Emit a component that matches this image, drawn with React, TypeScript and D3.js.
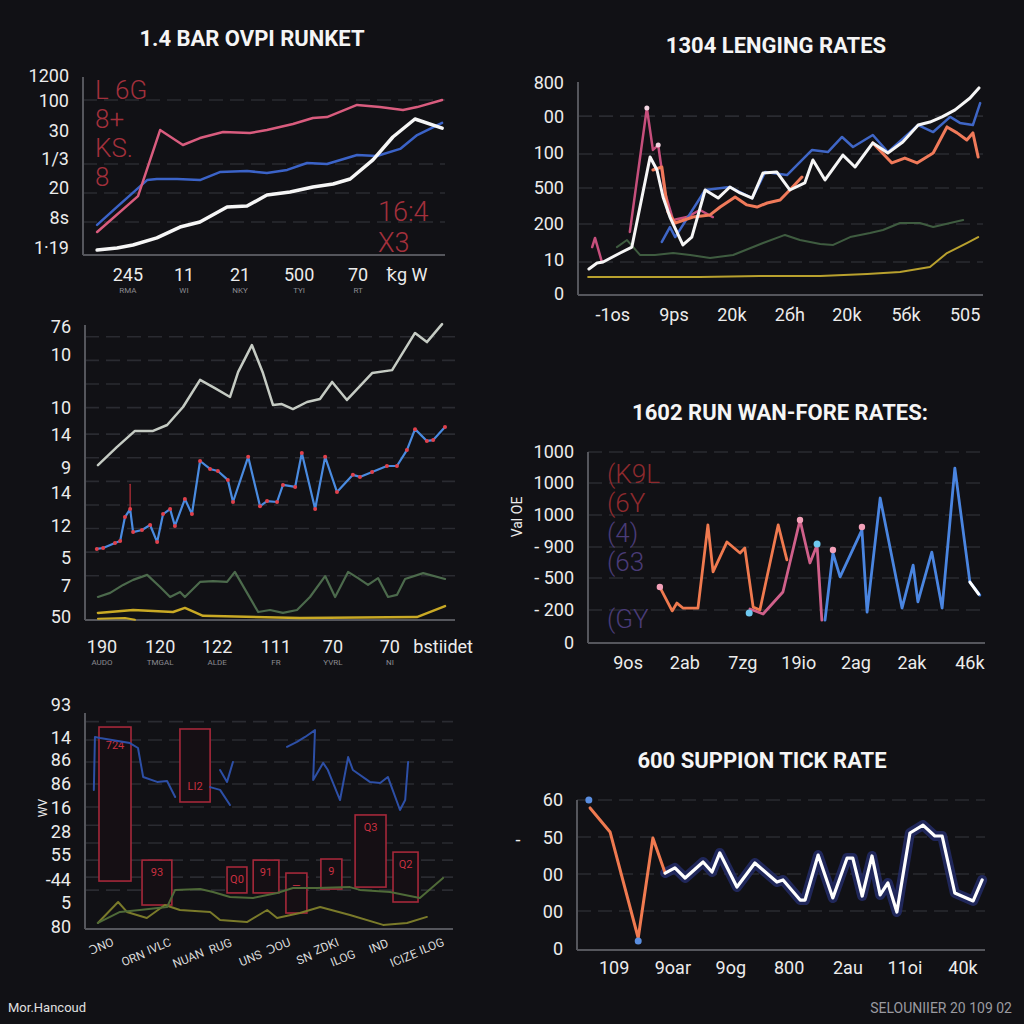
import React from 'react';
import * as d3 from 'd3';

type Pt = [number, number];

// ---------------- Panel 1 : top-left ----------------
const p1Title = '1.4 BAR OVPI RUNKET';
const p1YLabels = ['1200', '100', '30', '1/3', '20', '8s', '1·19'];
const p1YValues = [101, 86.5, 70, 54, 37.6, 21, 4];
const p1XLabels = ['245', '11', '21', '500', '70', 'ꝁg W'];
const p1XSub = ['RMA', 'WI', 'NKY', 'TYI', 'RT', ''];
const p1XValues = [12.4, 27.9, 43.4, 59.7, 76, 89.5];
const p1Grid = [87.1, 51.1, 34.8, 18.5];
const p1Pink: Pt[] = [[3.9, 12.9], [15.2, 33.1], [21.3, 70.2], [27.6, 61.8], [32.3, 65.7], [38.7, 69.1], [46.1, 68.5], [50.8, 70.2], [58, 73.6], [63.5, 77], [67.4, 77.5], [75.7, 84.3], [82, 83.1], [88.4, 81.5], [92.3, 83.1], [99.2, 87.1]];
const p1Blue: Pt[] = [[3.9, 16.9], [9.4, 27], [17.7, 42.1], [20.4, 42.7], [26, 42.7], [32.3, 42.1], [37.8, 46.6], [45.3, 47.2], [50.8, 46.1], [56.4, 47.8], [61.9, 51.7], [67.4, 51.1], [75.7, 56.2], [81.2, 55.6], [87.6, 59.6], [92.3, 67.4], [99.2, 74.2]];
const p1White: Pt[] = [[3.9, 2.8], [9.4, 3.9], [13.8, 5.6], [20.4, 9.6], [26.8, 15.7], [32.3, 18.5], [39.8, 27], [45.3, 27.5], [50.8, 33.7], [57.2, 35.4], [63.5, 38.2], [69.1, 39.9], [73.8, 42.7], [80.1, 53.4], [85.6, 66.3], [91.7, 76.4], [99.2, 71.3]];
const p1NotesLeft = ['L 6G', '8+', 'KS.', '8'];
const p1NotesRight = ['16:4', 'X3'];

// ---------------- Panel 2 : top-right ----------------
const p2Title = '1304 LENGING RATES';
const p2YLabels = ['800', '00', '100', '500', '200', '10', '0'];
const p2YValues = [99.5, 83.6, 66.7, 50.2, 33.3, 16.4, 0.5];
const p2XLabels = ['-1os', '9ps', '20k', '2бh', '20k', '5бk', '505'];
const p2XValues = [8.6, 23.7, 38, 52.3, 66.4, 81, 95.6];
const p2Grid = [84, 66.2, 50.2, 33.3, 15.5];
const p2White: Pt[] = [[2.7, 12.2], [4.7, 15], [6.2, 15.5], [10.4, 19.7], [13.3, 22.5], [17.8, 64.8], [19.5, 58.7], [21, 46], [22.7, 36.6], [25.9, 23.5], [28.1, 27.2], [31.4, 49.3], [34.6, 45.5], [37.5, 50.7], [40, 47.9], [43, 45.5], [45.7, 57.3], [49.1, 57.7], [52.3, 49.3], [56, 52.6], [58, 63.4], [61, 54], [65.4, 65.7], [68.4, 60.1], [72.8, 71.4], [76.5, 66.7], [80.2, 71.8], [84, 79.8], [86.9, 81.2], [89.9, 83.6], [93.1, 86.9], [96.8, 92.5], [99, 97.2]];
const p2Blue: Pt[] = [[20.7, 24.9], [22.7, 31.9], [24, 27.2], [31.4, 49.3], [37.5, 50.7], [43, 45.5], [46.2, 57.7], [51.6, 56.3], [57.8, 68.1], [61.7, 67.1], [65.2, 74.2], [67.9, 69.5], [72.8, 75.1], [76.5, 67.1], [84, 79.8], [87.7, 76.5], [91.9, 83.6], [94.3, 80.8], [97.5, 79.8], [99.3, 90.1]];
const p2OrangeA: Pt[] = [[18.5, 58.7], [20.7, 60.1], [22.2, 39], [24, 33.8], [28.4, 36.6], [32.6, 37.6], [35.1, 41.3], [38.8, 46], [41.7, 42.3], [44.2, 41.3], [46.7, 43.2], [49.9, 44.6], [52.3, 49.3], [55.3, 55.4]];
const p2OrangeB: Pt[] = [[72.8, 71.4], [77.5, 62], [80.7, 64.3], [83.7, 62], [87.7, 66.7], [91.1, 78.9], [93.6, 76.1], [96, 72.8], [97.5, 76.1], [98.8, 64.8]];
const p2PinkA: Pt[] = [[3.5, 22.5], [4.2, 26.8], [5.9, 15.5]];
const p2PinkB: Pt[] = [[12.8, 29.6], [17, 87.8], [18.5, 68.1], [19.8, 70.4], [21.5, 47.9], [23.5, 35.2], [26.9, 36.6], [30.1, 39.9], [33.3, 36.6]];
const p2Green: Pt[] = [[9.6, 22.5], [12.1, 25.8], [15.3, 18.8], [19, 18.8], [23.5, 19.7], [27.7, 18.8], [32.6, 17.4], [38.3, 18.8], [45.7, 24.4], [51.1, 28.2], [54.8, 25.8], [59.8, 23.9], [63, 23.5], [67.2, 27.2], [72.1, 29.1], [75.3, 30.5], [79.5, 33.8], [84.4, 33.8], [87.7, 31.9], [91.9, 33.8], [95.1, 35.2]];
const p2Yellow: Pt[] = [[2.5, 8.5], [30.1, 8.5], [44.9, 8.9], [59.8, 8.9], [71.4, 9.9], [79.5, 10.8], [86.9, 13.1], [91.1, 19.7], [96, 24.4], [98.8, 27.2]];

// ---------------- Panel 3 : middle-left ----------------
const p3YLabels = ['76', '10', '10', '14', '9', '14', '12', '5', '7', '50'];
const p3YValues = [99.3, 89.8, 71.9, 62.7, 51.5, 43.1, 31.9, 21, 11.5, 1];
const p3XLabels = ['190', '120', '122', '111', '70', '70', 'bstiidet'];
const p3XSub = ['AUDO', 'TMGAL', 'ALDE', 'FR', 'YVRL', 'NI', ''];
const p3XValues = [4.6, 20.3, 35.7, 51.6, 67, 82.4, 96.8];
const p3Grid = [96, 88, 80, 72, 63, 55, 47, 39, 31, 23, 15];
const p3Gray: Pt[] = [[3.5, 52.5], [8.6, 58.6], [13.5, 64.1], [18.4, 64.1], [22.2, 66.1], [26.5, 72.2], [31.1, 81.4], [35.1, 78.6], [39.2, 75.6], [41.4, 84.1], [45.1, 93.2], [48.1, 83.7], [50.8, 72.9], [53.2, 73.2], [56.2, 71.5], [60, 73.9], [63.5, 74.9], [66.8, 80.7], [70.8, 74.6], [74.3, 79.3], [77.6, 83.7], [83, 84.7], [89.2, 97.3], [92.4, 94.2], [96.5, 100.3]];
const p3Blue: Pt[] = [[3.2, 24.1], [4.9, 24.4], [8.1, 26.1], [9.5, 26.8], [10.8, 34.9], [12.2, 37.6], [13, 29.8], [15.4, 30.5], [17.6, 32.2], [19.5, 26.4], [21.1, 35.9], [23, 37.6], [24.3, 31.9], [27, 41], [28.9, 35.9], [31.1, 53.9], [33.8, 51.2], [35.9, 50.5], [38.6, 47.5], [40, 40], [44.1, 55.3], [47.3, 38.6], [49.2, 40.3], [51.9, 40], [53.5, 45.8], [56.8, 45.1], [58.6, 56.6], [62.2, 37.6], [64.9, 55.3], [68.1, 43.4], [72.4, 49.2], [74.3, 48.5], [77.6, 50.2], [81.6, 52.2], [84.3, 52.2], [87, 57.6], [89.2, 64.7], [92.4, 60.7], [94.1, 61], [97.3, 65.4]];
const p3Green: Pt[] = [[3.5, 7.8], [6.8, 9.2], [10.3, 11.9], [13, 13.6], [16.8, 15.3], [20.3, 11.2], [23, 7.8], [25.7, 9.5], [27, 7.8], [31.1, 12.9], [34.6, 13.2], [38.4, 12.9], [40.5, 16.3], [43.8, 9.2], [46.8, 2.7], [50, 3.4], [53.5, 2.4], [57.3, 3.4], [60.8, 7.8], [64.9, 14.9], [67.6, 7.8], [71.1, 16.3], [73.8, 14.2], [76.5, 11.9], [79.2, 14.2], [81.9, 7.8], [84.3, 8.5], [86.5, 13.9], [91.4, 15.9], [97.3, 13.9]];
const p3YellowA: Pt[] = [[3.5, 2.4], [13, 3.4], [23.8, 2.7], [27, 4.1], [31.9, 1.4], [58.1, 0.7], [89.7, 1], [97.3, 4.7]];
const p3YellowB: Pt[] = [[3.5, 0.4], [10.8, 0.7], [13.5, 0.1]];
const p3Spike: Pt[] = [[12.2, 37.6], [12.2, 46]];

// ---------------- Panel 4 : middle-right ----------------
const p4Title = '1602 RUN WAN-FORE RATES:';
const p4YLabels = ['1000', '1000', '1000', '- 900', '- 500', '- 200', '0'];
const p4YValues = [100, 83.8, 67, 50.3, 34, 17.3, 0];
const p4XLabels = ['9os', '2ab', '7zg', '19io', '2ag', '2ak', '46k'];
const p4XValues = [10.1, 24.4, 39, 53.1, 67.5, 81.6, 96.2];
const p4Grid = [100, 83.8, 67, 50.3, 34, 17.3];
const p4Orange: Pt[] = [[18.1, 29.3], [21.2, 16.8], [22.4, 20.9], [23.9, 18.3], [27.7, 18.3], [30.2, 61.8], [31.5, 37.2], [35, 52.9], [38.3, 47.1], [39.5, 49.7], [41.6, 18.8], [43.3, 17.3], [47.9, 61.8], [50.1, 43.5]];
const p4Pink: Pt[] = [[40.8, 17.8], [44.1, 15.2], [49.1, 26.7], [53.4, 64.4], [55.9, 41.9], [57.7, 51.3], [58.9, 12]];
const p4Blue: Pt[] = [[59.7, 12], [61.7, 47.1], [63.5, 34.6], [69, 59.2], [70.3, 16.2], [73.6, 75.9], [79.1, 18.3], [81.9, 40.8], [83.1, 21.5], [86.6, 47.6], [89.2, 18.3], [92.4, 91.6], [96.2, 31.9], [98.7, 25.1]];
const p4White: Pt[] = [[96.2, 31.9], [98.4, 25.6]];
const p4DotsLight: Pt[] = [[40.6, 15.7], [57.7, 51.8]];
const p4DotsPink: Pt[] = [[53.4, 64.4], [61.7, 48.7], [69, 60.7], [18.1, 29.3]];
const p4Legend = ['(K9L', '(6Y', '(4)', '(63', '(GY'];

// ---------------- Panel 5 : bottom-left ----------------
const p5YLabels = ['93', '14', '86', '86', '16', '28', '55', '-44', '5', '80'];
const p5YValues = [103.7, 88.4, 78.2, 67.1, 56, 44.9, 34.3, 22.7, 12, 0.9];
const p5XLabels = ['ƆNO', 'ORN', 'IVLC', 'NUAN', 'RUG', 'UNS', 'ƆOU', 'SN', 'ZDKI', 'ILOG', 'IND', 'ICIZE', 'ILOG'];
const p5XValues = [4.9, 13.5, 20.5, 28.5, 37.2, 45.4, 53, 60, 66, 70.5, 80.2, 87, 94.6];
const p5Grid = [96, 87.5, 77.3, 67.1, 56.5, 48, 39.8, 31.9, 24, 18];
const p5BarStart = [3.8, 15.5, 25.8, 38.6, 45.7, 54.6, 64.1, 73.4, 83.7];
const p5BarEnd = [12.5, 23.6, 34, 44, 52.7, 60.3, 69.8, 81.8, 90.5];
const p5BarHigh = [93.5, 31.9, 92.6, 28.7, 31.9, 25.9, 32.4, 52.8, 35.6];
const p5BarLow = [22.2, 11.1, 58.8, 16.7, 16.7, 7.4, 18.5, 19.4, 12.5];
const p5BarLabels = ['724', '93', 'LI2', 'Q0', '91', '—', '9', 'Q3', 'Q2'];
const p5BlueA: Pt[] = [[2.4, 64.4], [2.7, 88.9], [4.1, 88.4], [12.2, 86.1], [14.4, 83.8], [15.8, 70.4], [19.6, 68.1], [22.3, 68.5], [24.5, 61.1]];
const p5BlueB: Pt[] = [[34, 65.7], [36.7, 64.4], [39.4, 57.4]];
const p5BlueC: Pt[] = [[36.7, 73.6], [38.6, 68.1], [40.2, 77.3]];
const p5BlueD: Pt[] = [[54.9, 84.3], [57.6, 86.6], [59.8, 88.9], [62.5, 92.1], [62, 69], [64.7, 76.9], [66, 73.6], [69.3, 59.7], [71.5, 79.6], [72.8, 73.6], [77.4, 68.1], [80.2, 67.6], [82.3, 70.4], [85.6, 55.1], [87, 59.7], [87.8, 77.3]];
const p5Green: Pt[] = [[3.5, 2.8], [6.8, 5.6], [9.5, 7.9], [14.9, 8.8], [22.3, 10.2], [24.5, 18.1], [31.3, 18.5], [34.8, 17.1], [39.4, 14.8], [45.7, 14.4], [52.2, 16.7], [56.5, 19], [63, 19], [72, 19.4], [74.7, 18.1], [82.9, 17.1], [91, 14.4], [97.3, 23.6]];
const p5Olive: Pt[] = [[3.5, 2.8], [9, 12.5], [11.4, 7.9], [16.8, 5.1], [21.7, 11.1], [25.8, 8.8], [34, 7.9], [36.7, 4.2], [44, 3.2], [49.5, 8.8], [52.2, 5.1], [58.4, 7.4], [63.9, 10.2], [72, 6.5], [81, 1.9], [87.5, 2.8], [92.9, 5.6]];

// ---------------- Panel 6 : bottom-right ----------------
const p6Title = '600 SUPPION TICK RATE';
const p6YLabels = ['60', '50', '00', '00', '0'];
const p6YValues = [100, 74.7, 50, 25.3, 0.7];
const p6XLabels = ['109', '9oar', '9og', '800', '2au', '11oi', '40k'];
const p6XValues = [9.1, 23.5, 37.7, 52, 66.4, 80.4, 94.6];
const p6Grid = [100, 75.3, 50.7, 26];
const p6Orange: Pt[] = [[3.2, 94.7], [8.1, 78.7], [15, 8], [18.6, 74.7], [21.6, 51.3]];
const p6White: Pt[] = [[21.6, 51.3], [24, 54.7], [26.5, 48], [30.9, 58.7], [33.1, 52], [35, 64.7], [39.2, 42], [43.6, 58], [49, 45.3], [50.5, 46.7], [54.7, 33.3], [55.9, 33.3], [59.1, 63.3], [62.7, 34.7], [66.2, 61.3], [67.6, 61.3], [69.9, 36], [72.3, 62.7], [74.3, 36.7], [76.2, 44.7], [78.4, 25.3], [81.6, 78], [84.8, 83.3], [87.7, 76], [89.5, 76], [92.6, 38], [97.1, 32.7], [99.3, 46.7]];
const p6Dots: Pt[] = [[2.9, 100], [15, 6]];

const FOOT_LEFT = 'Mor.Hancoud';
const FOOT_RIGHT = 'SELOUNIIER 20 109 02';

// ---------------- rendering ----------------
const FONT = "Roboto, 'Open Sans', 'DejaVu Sans', sans-serif";
const BG = '#111115';
const AXIS = '#55565c';
const GRID = '#2a2b31';
const TXT = '#ececec';

type Frame = { x0: number; x1: number; yt: number; yb: number };

function scales(f: Frame) {
  const x = d3.scaleLinear().domain([0, 100]).range([f.x0, f.x1]);
  const y = d3.scaleLinear().domain([0, 100]).range([f.yb, f.yt]);
  return { x, y };
}

function Path({ data, x, y, color, width, opacity = 1 }: any) {
  const gen = d3.line<Pt>().x(d => x(d[0])).y(d => y(d[1]));
  return <path d={gen(data) || ''} fill="none" stroke={color} strokeWidth={width} strokeOpacity={opacity} strokeLinejoin="round" strokeLinecap="round" />;
}

function Axes({ f, x, y, grid, yLabels, yValues, xLabels, xValues, xLabelDy = 20, xSub, fontSize = 18 }: any) {
  return (
    <g>
      {grid.map((g: number, i: number) => (
        <line key={'g' + i} x1={x(0)} x2={x(100)} y1={y(g)} y2={y(g)} stroke={GRID} strokeWidth={1.6} strokeDasharray="14 7" />
      ))}
      <line x1={f.x0} x2={f.x0} y1={f.yt} y2={f.yb} stroke={AXIS} strokeWidth={2} />
      <line x1={f.x0} x2={f.x1} y1={f.yb} y2={f.yb} stroke={AXIS} strokeWidth={2} />
      {yLabels.map((t: string, i: number) => (
        <text key={'y' + i} x={f.x0 - 14} y={y(yValues[i])} dy="0.35em" textAnchor="end" fill={TXT} fontSize={fontSize} fontFamily={FONT}>{t}</text>
      ))}
      {xLabels && xLabels.map((t: string, i: number) => (
        <text key={'x' + i} x={x(xValues[i])} y={f.yb + xLabelDy} dy="0.35em" textAnchor="middle" fill={TXT} fontSize={fontSize} fontFamily={FONT}>{t}</text>
      ))}
      {xSub && xSub.map((t: string, i: number) => (
        <text key={'s' + i} x={x(xValues[i])} y={f.yb + xLabelDy + 15} dy="0.35em" textAnchor="middle" fill="#8a8a90" fontSize={8} fontFamily={FONT}>{t}</text>
      ))}
    </g>
  );
}

function Dots({ data, x, y, color, r = 2.5 }: any) {
  return <g>{data.map((d: Pt, i: number) => <circle key={i} cx={x(d[0])} cy={y(d[1])} r={r} fill={color} />)}</g>;
}

export default function App() {
  const f1: Frame = { x0: 83, x1: 445, yt: 77, yb: 255 };
  const f2: Frame = { x0: 578, x1: 983, yt: 82, yb: 295 };
  const f3: Frame = { x0: 85, x1: 455, yt: 325, yb: 620 };
  const f4: Frame = { x0: 588, x1: 985, yt: 452, yb: 643 };
  const f5: Frame = { x0: 85, x1: 453, yt: 713, yb: 929 };
  const f6: Frame = { x0: 577, x1: 985, yt: 800, yb: 950 };
  const s1 = scales(f1), s2 = scales(f2), s3 = scales(f3), s4 = scales(f4), s5 = scales(f5), s6 = scales(f6);
  const titleStyle = { fill: '#f5f5f5', fontSize: 22, fontWeight: 700, fontFamily: FONT } as any;

  return (
    <svg width={1024} height={1024} style={{ position: 'absolute', left: 0, top: 0, display: 'block' }}>
      <rect width={1024} height={1024} fill={BG} />

      {/* Panel 1 */}
      <text x={252} y={46} textAnchor="middle" {...titleStyle}>{p1Title}</text>
      <Axes f={f1} {...s1} grid={p1Grid} yLabels={p1YLabels} yValues={p1YValues} xLabels={p1XLabels} xValues={p1XValues} xSub={p1XSub} />
      {p1NotesLeft.map((t, i) => (
        <text key={i} x={95} y={99 + i * 29} fill="#a3303c" fontSize={26} fontWeight={300} fontFamily={FONT}>{t}</text>
      ))}
      {p1NotesRight.map((t, i) => (
        <text key={i} x={378} y={221 + i * 31} fill="#a3303c" fontSize={27} fontWeight={300} fontFamily={FONT}>{t}</text>
      ))}
      <Path data={p1Blue} {...s1} color="#3b63c8" width={2.5} />
      <Path data={p1Pink} {...s1} color="#d95c7e" width={2.5} />
      <Path data={p1White} {...s1} color="#f6f6f6" width={3.5} />

      {/* Panel 2 */}
      <text x={776} y={53} textAnchor="middle" {...titleStyle}>{p2Title}</text>
      <Axes f={f2} {...s2} grid={p2Grid} yLabels={p2YLabels} yValues={p2YValues} xLabels={p2XLabels} xValues={p2XValues} />
      <Path data={p2Yellow} {...s2} color="#b9a12e" width={2} />
      <Path data={p2Green} {...s2} color="#3f5c40" width={2} />
      <Path data={p2PinkA} {...s2} color="#c64f7c" width={2.5} />
      <Path data={p2PinkB} {...s2} color="#c64f7c" width={2.5} />
      <Path data={p2Blue} {...s2} color="#3f66c6" width={2.5} />
      <Path data={p2OrangeA} {...s2} color="#f07a5a" width={3} />
      <Path data={p2OrangeB} {...s2} color="#f07a5a" width={3} />
      <Path data={p2White} {...s2} color="#f6f6f6" width={3} />
      <Dots data={[p2PinkB[1], p2PinkB[3]]} {...s2} color="#f3d4e0" r={2.5} />

      {/* Panel 3 */}
      <Axes f={f3} {...s3} grid={p3Grid} yLabels={p3YLabels} yValues={p3YValues} xLabels={p3XLabels} xValues={p3XValues} xSub={p3XSub} xLabelDy={27} />
      <Path data={p3YellowB} {...s3} color="#c9a925" width={2} />
      <Path data={p3YellowA} {...s3} color="#c9a925" width={2.5} />
      <Path data={p3Green} {...s3} color="#4c6a4c" width={2.2} />
      <Path data={p3Gray} {...s3} color="#c5cbc3" width={2.5} />
      <Path data={p3Spike} {...s3} color="#c0303a" width={1.2} />
      <Path data={p3Blue} {...s3} color="#4a8be0" width={2.2} />
      <Dots data={p3Blue} {...s3} color="#e0404a" r={2} />

      {/* Panel 4 */}
      <text x={780} y={420} textAnchor="middle" {...titleStyle}>{p4Title}</text>
      <Axes f={f4} {...s4} grid={p4Grid} yLabels={p4YLabels} yValues={p4YValues} xLabels={p4XLabels} xValues={p4XValues} />
      <text transform="translate(522,517) rotate(-90)" textAnchor="middle" fill={TXT} fontSize={14} fontFamily={FONT}>Val OE</text>
      {p4Legend.map((t, i) => (
        <text key={i} x={607} y={[483, 512, 542, 571, 628][i]} fill={i < 2 ? '#8e2a2e' : '#4a3c78'} fontSize={26} fontWeight={300} fontFamily={FONT}>{t}</text>
      ))}
      <Path data={p4Orange} {...s4} color="#f07a4f" width={2.8} />
      <Path data={p4Pink} {...s4} color="#d0608a" width={2.8} />
      <Path data={p4Blue} {...s4} color="#4a85e0" width={2.8} />
      <Path data={p4White} {...s4} color="#ffffff" width={3} />
      <Dots data={p4DotsLight} {...s4} color="#6ec8f0" r={3.5} />
      <Dots data={p4DotsPink} {...s4} color="#f3a0b8" r={3.2} />

      {/* Panel 5 */}
      <Axes f={f5} {...s5} grid={p5Grid} yLabels={p5YLabels} yValues={p5YValues} />
      <text transform="translate(47,808) rotate(-90)" textAnchor="middle" fill={TXT} fontSize={12} fontFamily={FONT}>WV</text>
      {p5XLabels.map((t, i) => (
        <text key={i} transform={`translate(${s5.x(p5XValues[i])},${950 + (i % 2) * 12}) rotate(-22)`} textAnchor="middle" fill="#d8d8d8" fontSize={12} fontFamily={FONT}>{t}</text>
      ))}
      {p5BarStart.map((b, i) => (
        <g key={i}>
          <rect x={s5.x(b)} y={s5.y(p5BarHigh[i])} width={s5.x(p5BarEnd[i]) - s5.x(b)} height={s5.y(p5BarLow[i]) - s5.y(p5BarHigh[i])} fill="#150f14" stroke="#a5283a" strokeWidth={1.6} />
          <text x={(s5.x(b) + s5.x(p5BarEnd[i])) / 2} y={i === 0 ? s5.y(p5BarHigh[i]) + 22 : i === 2 ? s5.y(p5BarLow[i]) - 12 : s5.y(p5BarHigh[i]) + 16} textAnchor="middle" fill="#c83040" fontSize={11} fontFamily={FONT}>{p5BarLabels[i]}</text>
        </g>
      ))}
      <Path data={p5Olive} {...s5} color="#7a7a2a" width={2} />
      <Path data={p5Green} {...s5} color="#4f6a38" width={2} />
      <Path data={p5BlueA} {...s5} color="#2d4fa6" width={2} />
      <Path data={p5BlueB} {...s5} color="#2d4fa6" width={2} />
      <Path data={p5BlueC} {...s5} color="#2d4fa6" width={2} />
      <Path data={p5BlueD} {...s5} color="#2d4fa6" width={2} />

      {/* Panel 6 */}
      <text x={762} y={768} textAnchor="middle" {...titleStyle}>{p6Title}</text>
      <Axes f={f6} {...s6} grid={p6Grid} yLabels={p6YLabels} yValues={p6YValues} xLabels={p6XLabels} xValues={p6XValues} xLabelDy={18} />
      <text x={518} y={840} dy="0.35em" textAnchor="middle" fill={TXT} fontSize={18} fontFamily={FONT}>-</text>
      <Path data={p6White} {...s6} color="#232c66" width={10} opacity={0.85} />
      <Path data={p6Orange} {...s6} color="#f07a50" width={3} />
      <Path data={p6White} {...s6} color="#ffffff" width={3.2} />
      <Dots data={p6Dots} {...s6} color="#5a8ee0" r={3.5} />

      <text x={8} y={1007} dy="0.35em" fill="#e0e0e0" fontSize={13} fontFamily={FONT}>{FOOT_LEFT}</text>
      <text x={1012} y={1008} dy="0.35em" textAnchor="end" fill="#9a9aa0" fontSize={14} fontFamily={FONT}>{FOOT_RIGHT}</text>
    </svg>
  );
}
